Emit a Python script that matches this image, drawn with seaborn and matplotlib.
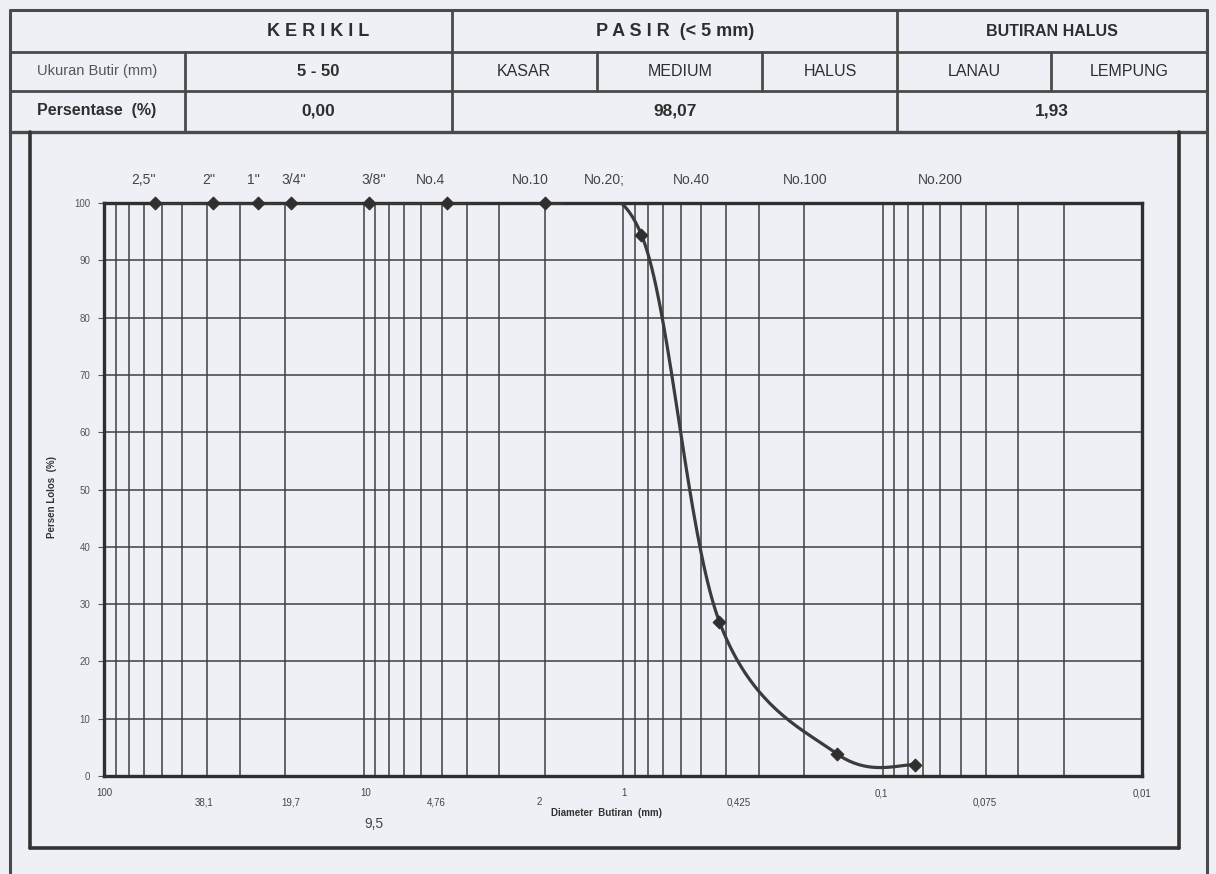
import numpy as np
import pandas as pd
import matplotlib
matplotlib.use("Agg")
import matplotlib.pyplot as plt
import matplotlib.transforms as mtransforms
from matplotlib.lines import Line2D
import seaborn as sns

# ---------------- data ----------------
sieve_mm = [63.5, 38.1, 25.4, 19.05, 9.5, 4.76, 2.0, 0.85, 0.425, 0.15, 0.075]
percent_pass = [100, 100, 100, 100, 100, 100, 100, 94.5, 26.9, 3.9, 1.93]

top_labels = ["2,5''", "2''", "1''", "3/4''", "3/8''", "No.4", "No.10", "No.20;", "No.40", "No.100", "No.200"]
top_label_x = [70.7, 39.4, 26.6, 18.5, 9.17, 5.53, 2.27, 1.178, 0.544, 0.198, 0.0601]

bottom_labels = ["100", "38,1", "19,7", "10", "4,76", "2", "1", "0,425", "0,1", "0,075", "0,01"]
bottom_label_x = [100, 41.3, 19.0, 9.85, 5.24, 2.1, 0.995, 0.3585, 0.1007, 0.0403, 0.01]
bottom_label_row = [0, 1, 1, 0, 1, 1, 0, 1, 0, 1, 0]

y_ticks = [0, 10, 20, 30, 40, 50, 60, 70, 80, 90, 100]

header_row1 = ["K E R I K I L", "P A S I R  (< 5 mm)", "BUTIRAN HALUS"]
header_row2 = ["Ukuran Butir (mm)", "5 - 50", "KASAR", "MEDIUM", "HALUS", "LANAU", "LEMPUNG"]
header_row3 = ["Persentase  (%)", "0,00", "98,07", "1,93"]

# ---------------- style ----------------
W, H = 1216, 874
paper = "#eef0f5"
sns.set_theme(style="white")
plt.rcParams["font.family"] = ["Liberation Sans Narrow", "Liberation Sans", "DejaVu Sans"]
plt.rcParams["figure.facecolor"] = paper
plt.rcParams["axes.facecolor"] = paper

fig = plt.figure(figsize=(W / 100, H / 100), dpi=100)


def fx(px):
    return px / W


def fy(py):
    return 1 - py / H


def hline(x0, x1, y, lw=2.0, color="#4a4a4a"):
    fig.add_artist(Line2D([fx(x0), fx(x1)], [fy(y), fy(y)], lw=lw, color=color))


def vline(x, y0, y1, lw=2.0, color="#4a4a4a"):
    fig.add_artist(Line2D([fx(x), fx(x)], [fy(y0), fy(y1)], lw=lw, color=color))


# outer frame & table
vline(10, 10, 874, lw=2.2)
vline(1207, 10, 874, lw=2.2)
hline(10, 1207, 10, lw=2.2)
hline(10, 1207, 52, lw=2.0)
hline(10, 1207, 91, lw=2.0)
hline(10, 1207, 132, lw=2.4)
for x in [452, 897]:
    vline(x, 10, 132)
vline(185, 52, 132)
for x in [597, 762, 1051]:
    vline(x, 52, 91)

# inner chart box
vline(30, 132, 848, lw=2.6, color="#333333")
vline(1179, 132, 848, lw=2.6, color="#333333")
hline(30, 1179, 848, lw=2.6, color="#333333")

# header text
txtc = "#2e2e2e"
r1y, r2y, r3y = 31, 71, 111
fig.text(fx(318), fy(r1y), header_row1[0], ha="center", va="center", fontsize=13, fontweight="bold", color=txtc)
fig.text(fx(675), fy(r1y), header_row1[1], ha="center", va="center", fontsize=13, fontweight="bold", color=txtc)
fig.text(fx(1052), fy(r1y), header_row1[2], ha="center", va="center", fontsize=11.5, fontweight="bold", color=txtc)

row2_x = [97, 318, 524, 680, 830, 974, 1129]
for i, (lab, x) in enumerate(zip(header_row2, row2_x)):
    fig.text(fx(x), fy(r2y), lab, ha="center", va="center",
             fontsize=10.5 if i == 0 else (12 if i == 1 else 11.5),
             fontweight="bold" if i == 1 else "normal",
             color="#555555" if i == 0 else txtc)

row3_x = [97, 318, 675, 1052]
for i, (lab, x) in enumerate(zip(header_row3, row3_x)):
    fig.text(fx(x), fy(r3y), lab, ha="center", va="center",
             fontsize=11.5 if i == 0 else 12.5, fontweight="bold", color=txtc)

# ---------------- axes ----------------
ax_l, ax_r, ax_t, ax_b = 104, 1142, 203, 776
ax = fig.add_axes([fx(ax_l), fy(ax_b), (ax_r - ax_l) / W, (ax_b - ax_t) / H])
ax.set_xscale("log")
ax.set_xlim(100, 0.01)
ax.set_ylim(0, 100)

ax.set_yticks(y_ticks)
ax.set_yticklabels([str(v) for v in y_ticks], fontsize=7, color="#555555")
ax.xaxis.set_major_locator(matplotlib.ticker.LogLocator(base=10, numticks=10))
ax.xaxis.set_minor_locator(matplotlib.ticker.LogLocator(base=10, subs=np.arange(2, 10), numticks=50))
ax.grid(True, which="both", axis="x", color="#3f3f3f", lw=1.1)
ax.grid(True, which="major", axis="y", color="#3f3f3f", lw=1.1)
ax.tick_params(axis="x", which="both", length=0, labelbottom=False)
ax.tick_params(axis="y", length=4, width=0.8, color="#555555", pad=6, left=True)
for s in ax.spines.values():
    s.set_color("#2f2f2f")
    s.set_linewidth(2.4)


# smoothed (Excel-like Catmull-Rom) line through the measured points, in screen-like space
def smooth_curve(xs, ys, n=40):
    u = -np.log10(np.asarray(xs, float)) * 259.25
    v = np.asarray(ys, float) * 5.73
    P = np.column_stack([u, v])
    P = np.vstack([P[0], P, P[-1]])
    out = []
    t = np.linspace(0, 1, n)[:, None]
    for i in range(1, len(P) - 2):
        p0, p1, p2, p3 = P[i - 1], P[i], P[i + 1], P[i + 2]
        c1 = p1 + (p2 - p0) / 6
        c2 = p2 - (p3 - p1) / 6
        seg = ((1 - t) ** 3) * p1 + 3 * ((1 - t) ** 2) * t * c1 + 3 * (1 - t) * t ** 2 * c2 + t ** 3 * p2
        out.append(seg if i == 1 else seg[1:])
    out = np.vstack(out)
    return 10 ** (-out[:, 0] / 259.25), out[:, 1] / 5.73


cx, cy = smooth_curve(sieve_mm, percent_pass)
curve = pd.DataFrame({"d": cx, "p": cy})
pts = pd.DataFrame({"d": sieve_mm, "p": percent_pass})
sns.lineplot(data=curve, x="d", y="p", sort=False, estimator=None, ax=ax,
             color="#3b3b3b", lw=2.3, zorder=5)
sns.scatterplot(data=pts, x="d", y="p", ax=ax, marker="D", s=42, color="#2f2f2f",
                edgecolor="#2f2f2f", linewidth=0.8, zorder=6, clip_on=False)
ax.set_xlabel("")
ax.set_ylabel("")

# texts on axes
trans = mtransforms.blended_transform_factory(ax.transData, ax.transAxes)
for lab, x in zip(top_labels, top_label_x):
    ax.text(x, 1.040, lab, transform=trans, ha="center", va="center", fontsize=10, color="#444444")

for lab, x, r in zip(bottom_labels, bottom_label_x, bottom_label_row):
    ax.text(x, -0.030 if r == 0 else -0.046, lab, transform=trans, ha="center", va="center",
            fontsize=7, color="#444444")
ax.text(9.09, -0.083, "9,5", transform=trans, ha="center", va="center", fontsize=10, color="#444444")
ax.text(1.153, -0.064, "Diameter  Butiran  (mm)", transform=trans, ha="center", va="center",
        fontsize=7, fontweight="bold", color="#333333")

fig.text(fx(52), fy(497), "Persen Lolos  (%)", rotation=90, ha="center", va="center",
         fontsize=7, fontweight="bold", color="#333333")

fig.savefig("out.png", dpi=100, facecolor=paper)
